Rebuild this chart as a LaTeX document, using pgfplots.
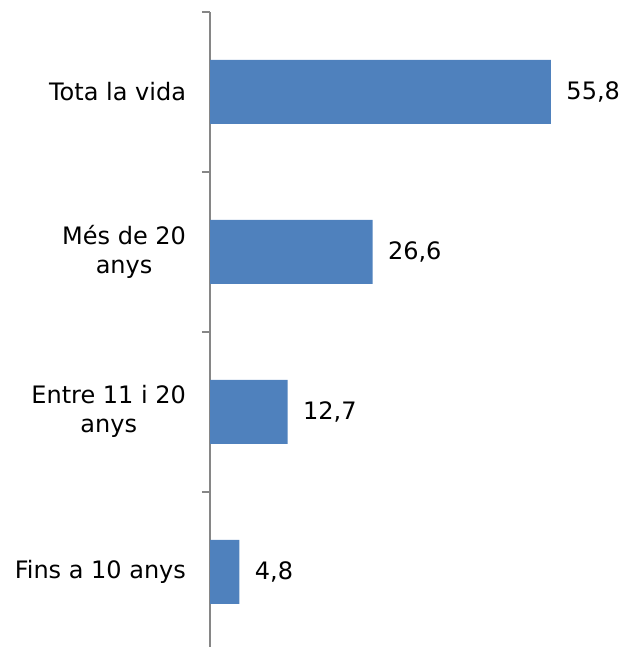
\documentclass[border=0pt]{standalone}
\usepackage{pgfplots}
\pgfplotsset{compat=1.18}
\usepackage{fontspec}
\setmainfont{DejaVu Sans}
\definecolor{barblue}{HTML}{4F81BD}
\definecolor{axisgray}{HTML}{868686}
\newcommand{\chartfont}{\fontsize{24}{29}\selectfont}
\begin{document}
\begin{tikzpicture}
\path[use as bounding box] (0,0) rectangle (623pt,647pt);
\begin{axis}[
    at={(210pt,0pt)}, anchor=south west,
    scale only axis,
    width=413pt, height=635pt,
    xbar, bar width=64pt,
    xmin=0, xmax=67.59,
    ymin=-0.47, ymax=3.5,
    axis x line=none,
    axis y line=left,
    y axis line style={-, draw=axisgray, line width=1.5pt},
    ytick={0,1,2,3},
    yticklabels={Fins a 10 anys, {Entre 11 i 20\\anys}, {Més de 20\\anys}, Tota la vida},
    minor ytick={0.5,1.5,2.5,3.5},
    major tick length=0pt,
    minor tick length=8pt,
    tick align=outside,
    minor tick style={draw=axisgray, line width=1.5pt},
    yticklabel style={font=\chartfont, align=center, xshift=-20.5pt},
    nodes near coords,
    nodes near coords style={font=\chartfont, anchor=west, xshift=12pt,
        /pgf/number format/.cd, use comma, fixed, fixed zerofill, precision=1,
        assume math mode=true},
]
\addplot[fill=barblue, draw=none] coordinates {
    (4.8,0) (12.7,1) (26.6,2) (55.8,3)
};
\end{axis}
\end{tikzpicture}
\end{document}
